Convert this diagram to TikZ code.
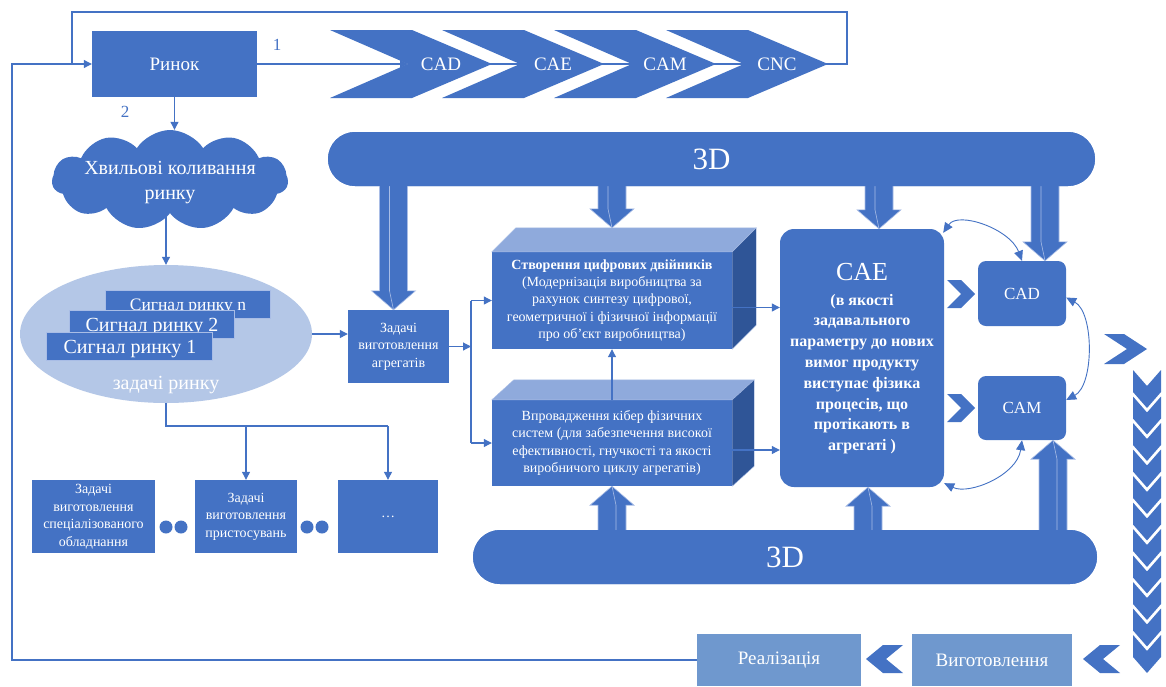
\documentclass[tikz,border=0pt]{standalone}
\usepackage{fontspec}
\setmainfont{Liberation Serif}
\usetikzlibrary{shapes.geometric,shapes.symbols,arrows.meta,calc}

\definecolor{mainblue}{HTML}{4472C4}
\definecolor{darkblue}{HTML}{2F5597}
\definecolor{topblue}{HTML}{8FAADC}
\definecolor{paleblue}{HTML}{B4C7E7}
\definecolor{softblue}{HTML}{6F98CE}
\definecolor{edgeblue}{HTML}{A9BDE6}

\newcommand\fsz[2]{\fontsize{#1}{#2}\selectfont}

\tikzset{
  box/.style={fill=mainblue, text=white, inner sep=0pt, align=center},
  lightbox/.style={fill=softblue, text=white, inner sep=0pt, align=center},
  sig/.style={fill=mainblue, draw=edgeblue, line width=0.6pt, inner sep=0pt},
  conn/.style={draw=mainblue, line width=1.1pt},
  arr/.style={conn, -{Triangle[length=8pt,width=8pt]}},
  dblarr/.style={draw=mainblue, line width=0.9pt,
    {Triangle[length=10pt,width=9pt]}-{Triangle[length=10pt,width=9pt]}},
  blk/.style={fill=mainblue, draw=edgeblue, line width=0.6pt, line join=miter},
  blkedge/.style={draw=edgeblue, line width=0.6pt},
  facetop/.style={fill=topblue, draw=edgeblue, line width=0.4pt},
  faceside/.style={fill=darkblue, draw=edgeblue, line width=0.4pt},
}

% wide 3D-style block arrows between two points on a vertical line
\newcommand\blockdown[2]{%
  \path[blk] let \p1=(#1), \p2=(#2) in
    (\x1-14pt,\y1) -- (\x1-14pt,\y2+19pt) -- (\x1-22pt,\y2+19pt) -- (\x1,\y2)
    -- (\x1+22pt,\y2+19pt) -- (\x1+14pt,\y2+19pt) -- (\x1+14pt,\y1) -- cycle;
  \draw[blkedge] let \p1=(#1), \p2=(#2) in
    (\x1-4pt,\y1) -- (\x1-4pt,\y2+19pt) -- (\x1,\y2);
}
\newcommand\blockup[2]{%
  \path[blk] let \p1=(#1), \p2=(#2) in
    (\x1-14pt,\y1) -- (\x1-14pt,\y2-19pt) -- (\x1-22pt,\y2-19pt) -- (\x1,\y2)
    -- (\x1+22pt,\y2-19pt) -- (\x1+14pt,\y2-19pt) -- (\x1+14pt,\y1) -- cycle;
  \draw[blkedge] let \p1=(#1), \p2=(#2) in
    (\x1+4pt,\y1) -- (\x1+4pt,\y2-19pt) -- (\x1,\y2);
}

\begin{document}
\begin{tikzpicture}[x=1pt,y=-1pt]
\fill[white] (0,0) rectangle (1166,686);
\useasboundingbox (0,0) rectangle (1166,686);

% ---------- market and the CAD-CAE-CAM-CNC chain ----------
\node[box, minimum width=165pt, minimum height=66pt, font=\fsz{19}{23}] (rynok) at (174.5,64) {Ринок};
\node[text=mainblue, font=\fsz{17}{20}] (lab1) at (277,45) {1};
\node[text=mainblue, font=\fsz{17}{20}] (lab2) at (125,112) {2};

\coordinate (cadNotch) at (408,64);
\coordinate (cncTip) at (828,64);
\coordinate (frR) at (847,12);
\coordinate (frL) at (72,12);
\coordinate (fbX) at (12,0);

\draw[conn] (cadNotch) -- (cncTip);
\foreach \L/\lab/\nm in {330/CAD/chA, 442/CAE/chB, 554/CAM/chC, 666/CNC/chD}{
  \fill[mainblue] (\L,30) -- ({\L+82},30) -- ({\L+162},64) -- ({\L+82},98)
    -- (\L,98) -- ({\L+78},64) -- cycle;
  \node[text=white, font=\fsz{19}{22}] (\nm) at ({\L+111},64) {\lab};
}
\draw[arr] (rynok.east) -- (cadNotch);
\draw[conn] (cncTip) -- (cncTip -| frR) -- (frR) -- (frL) -- (frL |- rynok.west);

% ---------- market fluctuations ----------
\node[cloud, cloud puffs=11, cloud puff arc=115, aspect=2.3, fill=mainblue,
      minimum width=236pt, minimum height=100pt, inner sep=0pt] (cloud) at (170,180) {};
\node[text=white, align=center, font=\fsz{20}{25}] (cloudT) at (170,183) {Хвильові коливання\\ринку};
\draw[arr] (rynok.south) -- (rynok.south |- cloud.north);

\node[ellipse, fill=paleblue, minimum width=292pt, minimum height=138pt, inner sep=0pt] (mkt) at (166,334) {};
\draw[arr] (cloud.south -| mkt.north) -- (mkt.north);

\node[sig, minimum width=165pt, minimum height=28pt] (sigN) at (187.5,304) {};
\node[text=white, font=\fsz{17.5}{20}, anchor=base] (sigNt) at (188,310) {Сигнал ринку n};
\node[sig, minimum width=165pt, minimum height=28pt] (sig2) at (151.5,324) {};
\node[text=white, font=\fsz{20}{24}, anchor=base] (sig2t) at (152,331) {Сигнал ринку 2};
\node[sig, minimum width=166pt, minimum height=28pt] (sig1) at (129,346) {};
\node[text=white, font=\fsz{20}{24}, anchor=base] (sig1t) at (130,353) {Сигнал ринку 1};
\node[text=white, font=\fsz{20}{24}, anchor=base] (mktT) at (166,389) {задачі ринку};

% ---------- task boxes below ----------
\node[box, minimum width=123pt, minimum height=73pt, font=\fsz{14}{17.5}] (boxA) at (93.5,516.5)
  {Задачі\\виготовлення\\спеціалізованого\\обладнання};
\node[box, minimum width=102pt, minimum height=73pt, font=\fsz{14}{17.5}] (boxB) at (246,516.5)
  {Задачі\\виготовлення\\пристосувань};
\node[box, minimum width=100pt, minimum height=73pt, font=\fsz{14}{17.5}] (boxC) at (388,516.5) {…};
\node[circle, fill=mainblue, minimum size=13pt, inner sep=0pt] (dot1) at (166,527) {};
\node[circle, fill=mainblue, minimum size=13pt, inner sep=0pt] (dot2) at (181,527) {};
\node[circle, fill=mainblue, minimum size=13pt, inner sep=0pt] (dot3) at (307,527) {};
\node[circle, fill=mainblue, minimum size=13pt, inner sep=0pt] (dot4) at (322,527) {};

\coordinate (splitY) at (0,426);
\draw[conn] (mkt.south) -- (mkt.south |- splitY) -- (splitY -| boxC.north);
\draw[arr] (splitY -| boxB.north) -- (boxB.north);
\draw[arr] (splitY -| boxC.north) -- (boxC.north);

% ---------- unit manufacturing tasks ----------
\node[box, minimum width=101pt, minimum height=73pt, font=\fsz{14}{17.5}] (agg) at (398.5,346.5)
  {Задачі\\виготовлення\\агрегатів};
\draw[arr] (mkt.east) -- (mkt.east -| agg.west);

% ---------- the two blocks ----------
\node[box, minimum width=240pt, minimum height=97pt, font=\fsz{14}{17.4}] (cubeA) at (612,300.5)
  {\textbf{Створення цифрових двійників}\\(Модернізація виробництва за\\рахунок синтезу цифрової,\\геометричної і фізичної інформації\\про об’єкт виробництва)};
\path[facetop] (cubeA.north west) -- ([shift={(24,-24)}]cubeA.north west)
  -- ([shift={(24,-24)}]cubeA.north east) -- (cubeA.north east) -- cycle;
\path[faceside] (cubeA.north east) -- ([shift={(24,-24)}]cubeA.north east)
  -- ([shift={(24,-24)}]cubeA.south east) -- (cubeA.south east) -- cycle;

\node[box, minimum width=240pt, minimum height=86pt, font=\fsz{14}{17.4}] (cubeB) at (612,443)
  {Впровадження кібер фізичних\\систем (для забезпечення високої\\ефективності, гнучкості та якості\\виробничого циклу агрегатів)};
\path[facetop] (cubeB.north west) -- ([shift={(22,-20)}]cubeB.north west)
  -- ([shift={(22,-20)}]cubeB.north east) -- (cubeB.north east) -- cycle;
\path[faceside] (cubeB.north east) -- ([shift={(22,-20)}]cubeB.north east)
  -- ([shift={(22,-20)}]cubeB.south east) -- (cubeB.south east) -- cycle;

\coordinate (fork) at (471,0);
\draw[arr] (agg.east) -- (agg.east -| fork);
\draw[conn] (fork |- cubeA.west) -- (fork |- cubeB.west);
\draw[arr] (fork |- cubeA.west) -- (cubeA.west);
\draw[arr] (fork |- cubeB.west) -- (cubeB.west);
\draw[arr] (cubeB.north) -- (cubeA.south);

% ---------- CAE, CAD, CAM ----------
\node[fill=mainblue, rounded corners=14pt, minimum width=164pt, minimum height=258pt, inner sep=0pt] (cae) at (862,358) {};
\node[text=white, font=\fsz{26}{30}] (caeT) at (862,272) {CAE};
\node[text=white, align=center, font=\bfseries\fsz{16}{20.8}] (caeB) at (862,374)
  {(в якості\\задавального\\параметру до нових\\вимог продукту\\виступає фізика\\процесів, що\\протікають в\\агрегаті )};
\node[box, rounded corners=8pt, minimum width=88pt, minimum height=65pt, font=\fsz{17}{20}] (cad) at (1022,293.5) {CAD};
\node[box, rounded corners=8pt, minimum width=88pt, minimum height=64pt, font=\fsz{17}{20}] (cam) at (1022,408) {CAM};

\coordinate (oA) at ([yshift=-7pt]cubeA.east);
\coordinate (oB) at ([yshift=-7pt]cubeB.east);
\draw[arr] (oA) -- (oA -| cae.west);
\draw[arr] (oB) -- (oB -| cae.west);

% small chevrons from CAE
\fill[mainblue] (947,280) -- (961,280) -- (975,294) -- (961,308) -- (947,308) -- (961,294) -- cycle;
\fill[mainblue] (947,394) -- (961,394) -- (975,408) -- (961,422) -- (947,422) -- (961,408) -- cycle;
% chevron to the right of CAD/CAM
\fill[mainblue] (1104,334) -- (1124,334) -- (1147,349) -- (1124,364) -- (1104,364) -- (1127,349) -- cycle;

% curved links
\draw[dblarr] ([shift={(-1,4)}]cae.north east) .. controls +(15,-22) and +(-12,-32) .. (cad.north);
\draw[dblarr] ([yshift=-4pt]cad.east) .. controls +(28,15) and +(28,-15) .. ([yshift=8pt]cam.east);
\draw[dblarr] ([shift={(0,-4)}]cae.south east) .. controls +(25,12) and +(-5,35) .. (cam.south);

% ---------- 3D bars and block arrows ----------
\node[box, rounded corners=27pt, minimum width=767pt, minimum height=54pt, font=\fsz{31}{36}] (top3d) at (711.5,159) {};
\node[box, rounded corners=27pt, minimum width=624pt, minimum height=54pt, font=\fsz{31}{36}] (bot3d) at (785,557) {};

\coordinate (tA) at ([xshift=-5pt]agg.north);
\coordinate (tB) at ([yshift=24pt]cubeA.north);
\coordinate (tC) at ([xshift=17pt]cae.north);
\coordinate (tD) at ([xshift=23pt]cad.north);
\coordinate (bE) at (cubeB.south);
\coordinate (bF) at ([xshift=6pt]cae.south);
\coordinate (bG) at ([xshift=31pt]cam.south);

\blockdown{tA |- top3d.center}{tA}
\blockdown{tB |- top3d.center}{tB}
\blockdown{tC |- top3d.center}{tC}
\blockdown{tD |- top3d.center}{tD}
\blockup{bE |- bot3d.center}{bE}
\blockup{bF |- bot3d.center}{bF}
\blockup{bG |- bot3d.center}{bG}

\node[box, rounded corners=27pt, minimum width=767pt, minimum height=54pt, font=\fsz{31}{36}] (top3dF) at (711.5,159) {3D};
\node[box, rounded corners=27pt, minimum width=624pt, minimum height=54pt, font=\fsz{31}{36}] (bot3dF) at (785,557) {3D};

% ---------- downward chevron column ----------
\foreach \i in {0,...,10}{
  \pgfmathsetmacro\yy{370+26.5*\i}
  \fill[mainblue] (1133,\yy) -- (1147,{\yy+16}) -- (1161,\yy) -- (1161,{\yy+22})
    -- (1147,{\yy+38}) -- (1133,{\yy+22}) -- cycle;
}

% ---------- manufacturing and sales ----------
\node[lightbox, minimum width=160pt, minimum height=52pt, font=\fsz{19}{22}] (vyg) at (992,660) {Виготовлення};
\node[lightbox, minimum width=164pt, minimum height=52pt, font=\fsz{19}{22}] (realiz) at (779,660) {Реалізація};
\foreach \x in {866,1083}{
  \fill[mainblue] (\x,659) -- ({\x+17},645) -- ({\x+37},645) -- ({\x+20},659)
    -- ({\x+37},673) -- ({\x+17},673) -- cycle;
}

% feedback to the market
\draw[arr] (realiz.west) -- (realiz.west -| fbX) -- (rynok.west -| fbX) -- (rynok.west);

\end{tikzpicture}
\end{document}
